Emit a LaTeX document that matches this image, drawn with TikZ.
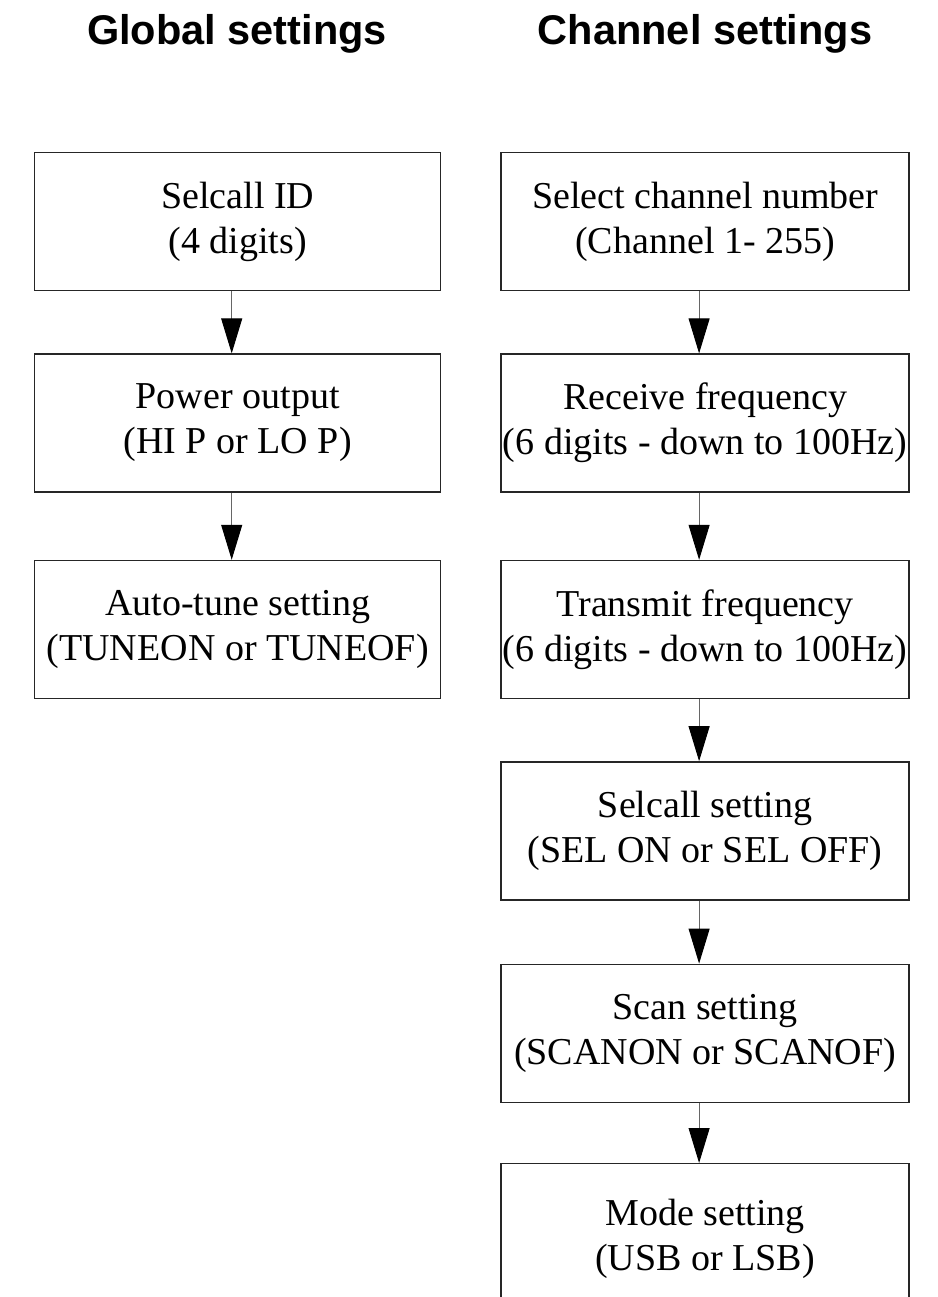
\documentclass[tikz,border=0pt]{standalone}
\usepackage{fontspec}
\setmainfont{Liberation Serif}
\setsansfont{Liberation Sans}
\usetikzlibrary{arrows.meta, positioning}

\begin{document}
\begin{tikzpicture}[x=1pt, y=1pt,
  >={Triangle[width=21pt, length=35pt, color=black, fill=black]},
  setbox/.style={draw=black!85, line width=1.4pt, minimum width=406pt,
    minimum height=138pt, inner sep=0pt, align=center,
    font=\fontsize{38}{45}\selectfont},
  heading/.style={font=\sffamily\bfseries\fontsize{41.5}{46}\selectfont, inner sep=0pt},
  flow/.style={->, draw=black!60, line width=1pt, transform canvas={xshift=-6pt}}]

  \useasboundingbox (0,0) rectangle (937,-1297);

  % column titles
  \node[heading, anchor=base] (gtitle) at (237,-45) {Global settings};
  \node[heading, anchor=base] (ctitle) at (705,-45) {Channel settings};

  % global settings
  \node[setbox, anchor=north west] (selid) at (34,-152)
    {Selcall ID\\(4 digits)};
  \node[setbox, below=62pt of selid] (power)
    {Power output\\(HI P or LO P)};
  \node[setbox, below=67pt of power] (tune)
    {Auto-tune setting\\(TUNEON or TUNEOF)};

  % channel settings
  \node[setbox, minimum width=408pt, right=59pt of selid] (chan)
    {Select channel number\\(Channel 1- 255)};
  \node[setbox, minimum width=408pt, below=62pt of chan] (rxfreq)
    {Receive frequency\\(6 digits - down to 100Hz)};
  \node[setbox, minimum width=408pt, below=67pt of rxfreq] (txfreq)
    {Transmit frequency\\(6 digits - down to 100Hz)};
  \node[setbox, minimum width=408pt, below=62pt of txfreq] (selset)
    {Selcall setting\\(SEL ON or SEL OFF)};
  \node[setbox, minimum width=408pt, below=63pt of selset] (scan)
    {Scan setting\\(SCANON or SCANOF)};
  \node[setbox, minimum width=408pt, minimum height=150pt,
        below=60pt of scan] (mode)
    {Mode setting\\(USB or LSB)};

  \draw[flow] (selid) -- (power);
  \draw[flow] (power) -- (tune);

  \draw[flow] (chan) -- (rxfreq);
  \draw[flow] (rxfreq) -- (txfreq);
  \draw[flow] (txfreq) -- (selset);
  \draw[flow] (selset) -- (scan);
  \draw[flow] (scan) -- (mode);

\end{tikzpicture}
\end{document}
